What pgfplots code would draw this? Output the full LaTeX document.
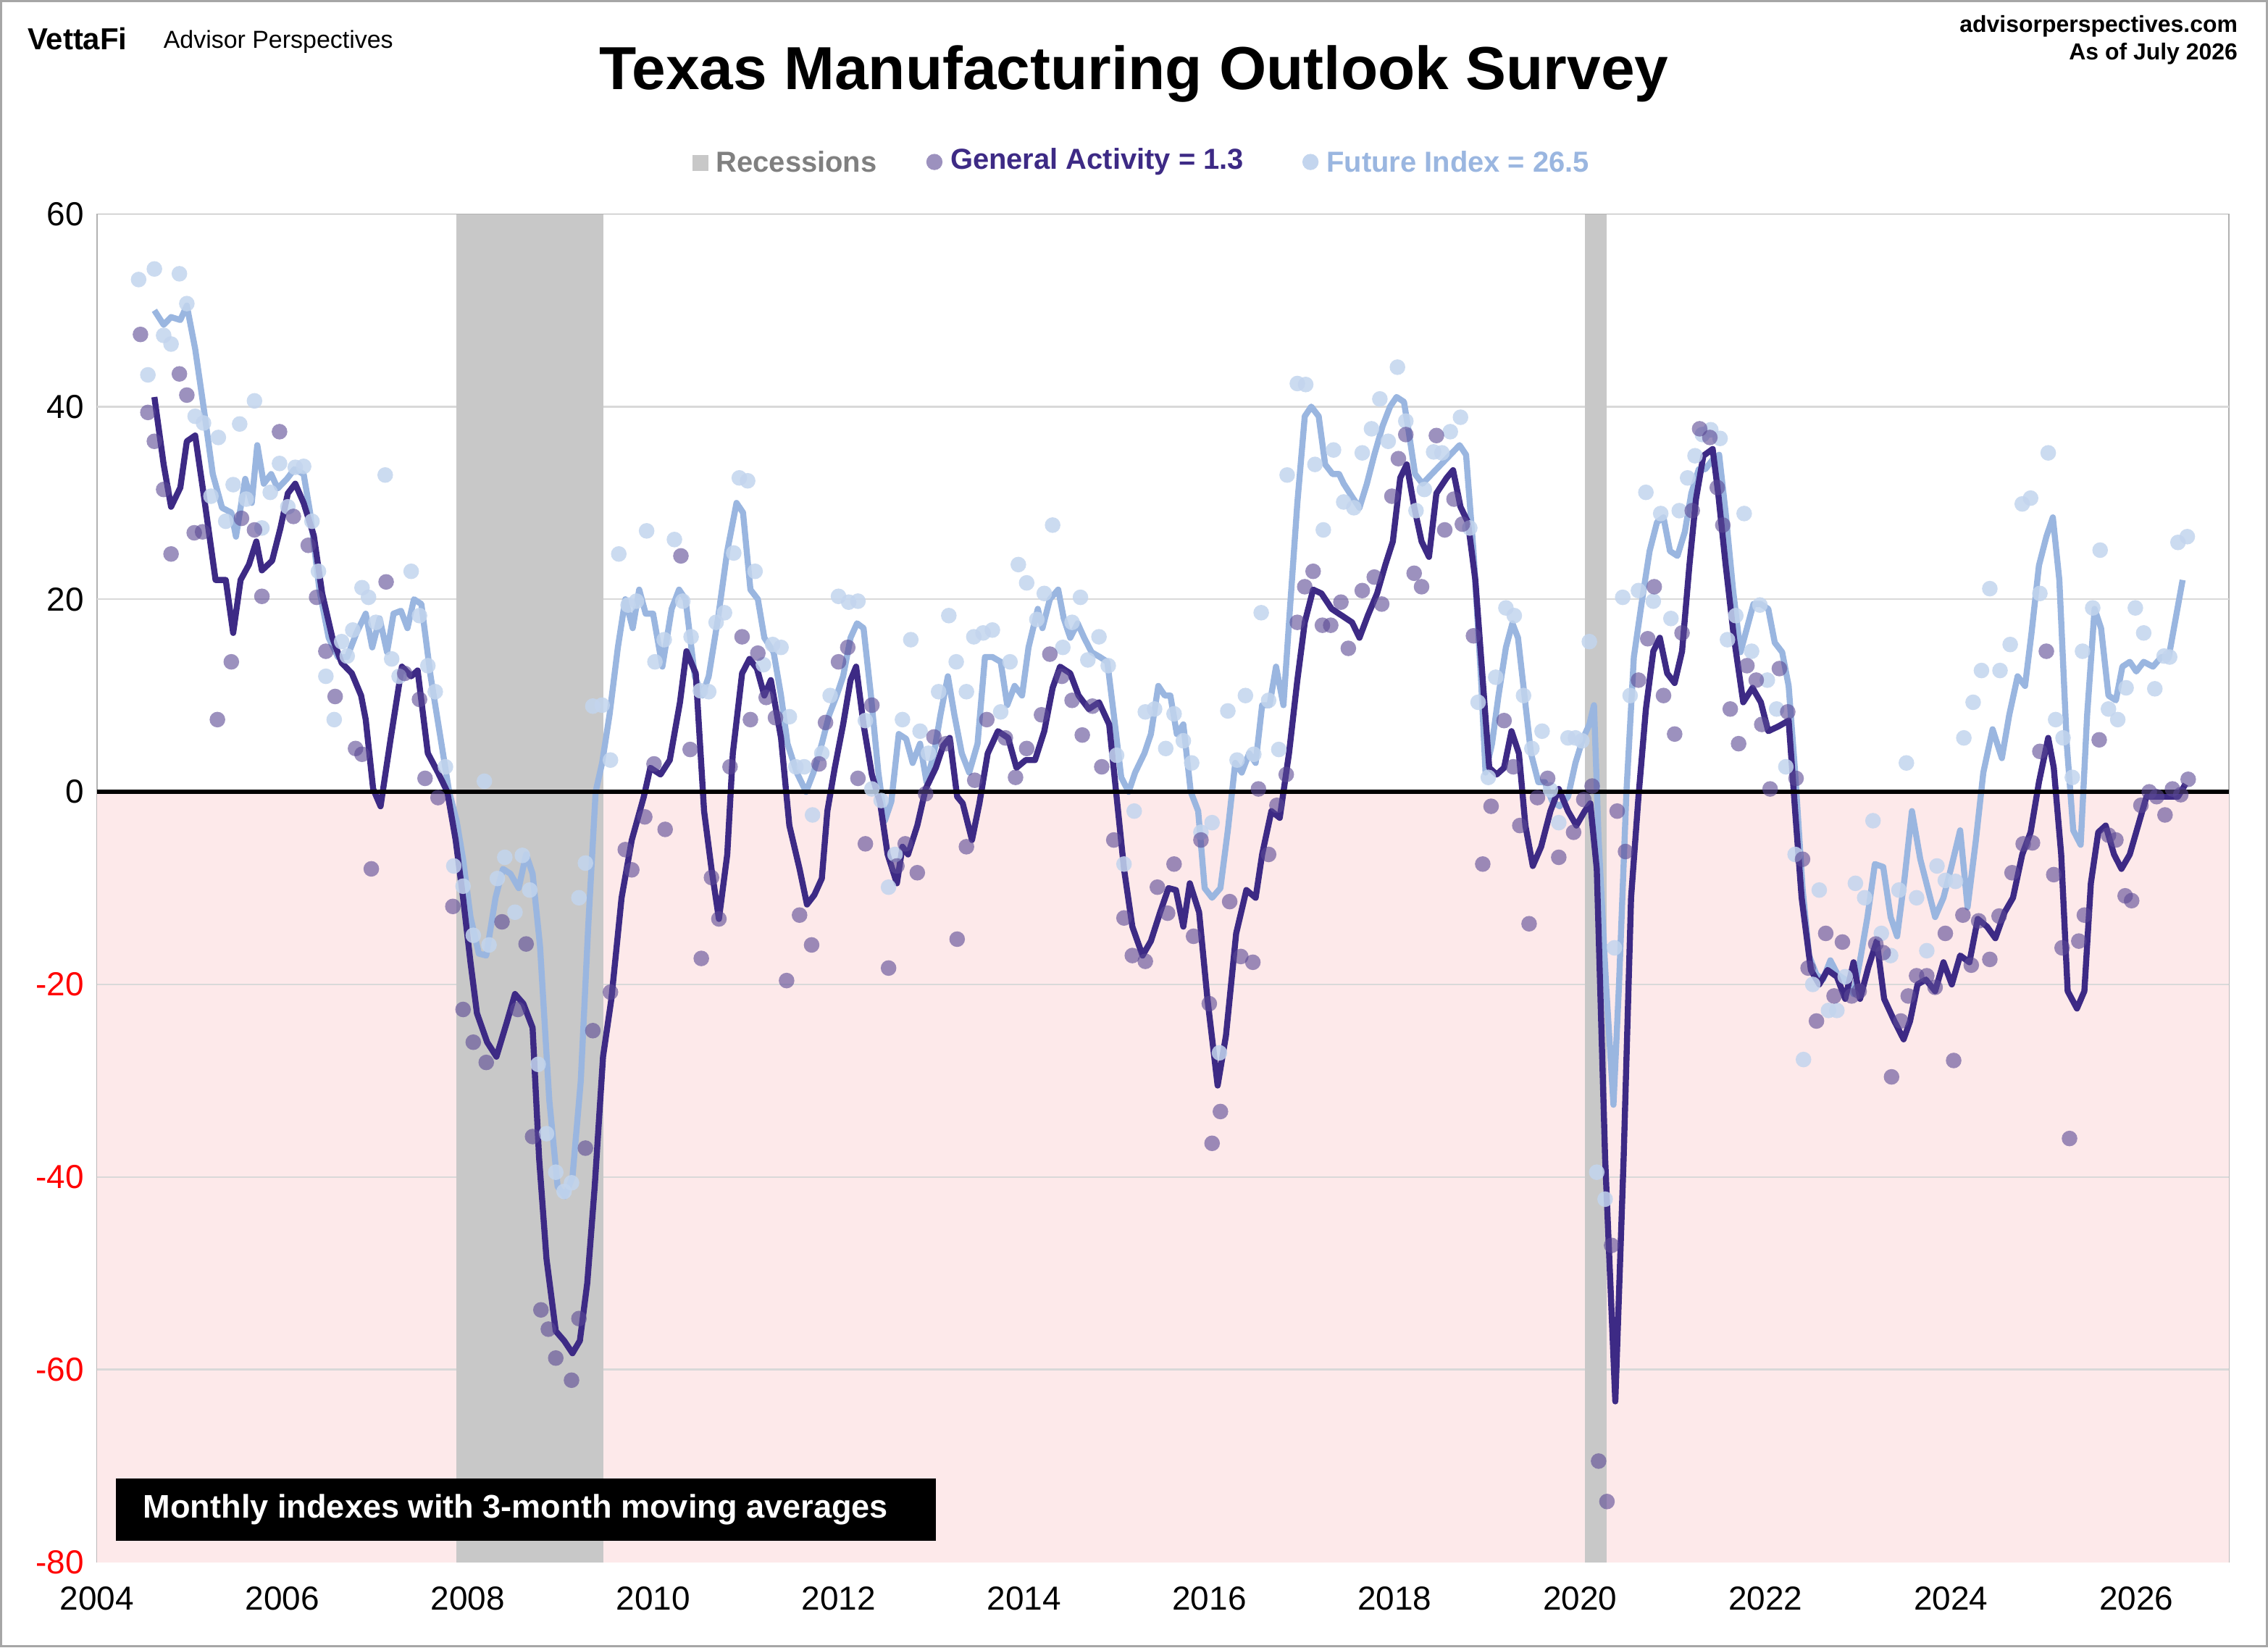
\documentclass[border=0pt]{standalone}
\usepackage{pgfplots}
\pgfplotsset{compat=1.18}
\usepackage{fontspec}
\setmainfont{Liberation Sans}
\definecolor{ga}{HTML}{3D2A85}
\definecolor{gadot}{HTML}{5A4894}
\definecolor{fi}{HTML}{9AB6E0}
\definecolor{fidot}{HTML}{C3D5EE}
\definecolor{pinkbg}{HTML}{FDE9EA}
\definecolor{recg}{HTML}{C8C8C8}
\definecolor{gridg}{HTML}{D9D9D9}
\begin{document}
\begin{tikzpicture}[x=1pt,y=1pt]
\fill[white] (0,0) rectangle (784,569.5);
\draw[gray!70,line width=0.8pt] (0.4,0.4) rectangle (783.6,569.1);
\begin{axis}[at={(33.5pt,29.5pt)},anchor=south west,scale only axis,
 width=737pt,height=466pt,xmin=2004,xmax=2027,ymin=-80,ymax=60,
 axis line style={gray!60},tick style={draw=none},
 xtick={2004,2006,...,2026},
 xticklabels={2004,2006,2008,2010,2012,2014,2016,2018,2020,2022,2024,2026},
 ytick={-80,-60,...,60},
 yticklabels={\textcolor{red}{-80},\textcolor{red}{-60},\textcolor{red}{-40},\textcolor{red}{-20},0,20,40,60},
 ticklabel style={font=\fontsize{11.5}{13}\selectfont},
 xticklabel style={yshift=-5pt},
 yticklabel style={xshift=-1pt},
 clip=true]
\fill[pinkbg] (axis cs:2003,-80) rectangle (axis cs:2028,0);
\draw[gridg,line width=0.6pt] (axis cs:2003,-60) -- (axis cs:2028,-60);
\draw[gridg,line width=0.6pt] (axis cs:2003,-40) -- (axis cs:2028,-40);
\draw[gridg,line width=0.6pt] (axis cs:2003,-20) -- (axis cs:2028,-20);
\draw[gridg,line width=0.6pt] (axis cs:2003,20) -- (axis cs:2028,20);
\draw[gridg,line width=0.6pt] (axis cs:2003,40) -- (axis cs:2028,40);
\fill[recg] (axis cs:2007.88,-80) rectangle (axis cs:2009.46,60);
\fill[recg] (axis cs:2020.05,-80) rectangle (axis cs:2020.29,60);
% Future index dots
\addplot[only marks,mark=*,mark size=2.7pt,color=fidot,draw opacity=0,fill opacity=0.85] coordinates {
(2004.45,53.2)(2004.55,43.3)(2004.62,54.3)(2004.72,47.4)(2004.80,46.5)(2004.89,53.8)(2004.97,50.7)(2005.06,39)(2005.15,38.3)(2005.23,30.7)(2005.31,36.8)(2005.39,28.1)(2005.47,31.9)(2005.54,38.2)(2005.61,30.4)(2005.70,40.6)(2005.78,27.4)(2005.87,31.1)(2005.97,34.1)(2006.06,29.6)(2006.14,33.7)(2006.23,33.8)(2006.32,28.1)(2006.39,22.9)(2006.47,12)(2006.56,7.5)(2006.64,15.6)(2006.70,14.1)(2006.76,16.8)(2006.86,21.2)(2006.93,20.2)(2007.01,17.6)(2007.11,32.9)(2007.18,13.8)(2007.26,12)(2007.39,22.9)(2007.48,18.3)(2007.57,13.1)(2007.65,10.4)(2007.76,2.6)(2007.85,-7.7)(2007.95,-9.8)(2008.06,-14.9)(2008.18,1.1)(2008.23,-15.9)(2008.32,-9)(2008.40,-6.8)(2008.51,-12.5)(2008.59,-6.6)(2008.67,-10.2)(2008.76,-28.3)(2008.85,-35.5)(2008.95,-39.5)(2009.04,-41.5)(2009.12,-40.6)(2009.20,-11)(2009.27,-7.4)(2009.35,8.9)(2009.45,9)(2009.54,3.3)(2009.63,24.7)(2009.73,19.4)(2009.82,19.8)(2009.93,27.1)(2010.02,13.5)(2010.12,15.8)(2010.23,26.2)(2010.32,19.8)(2010.41,16.1)(2010.51,10.5)(2010.60,10.4)(2010.68,17.6)(2010.77,18.6)(2010.87,24.8)(2010.93,32.6)(2011.02,32.3)(2011.10,22.9)(2011.19,13.2)(2011.29,15.3)(2011.38,15)(2011.47,7.8)(2011.54,2.6)(2011.63,2.6)(2011.72,-2.4)(2011.82,4)(2011.91,10)(2012.00,20.3)(2012.11,19.7)(2012.21,19.8)(2012.29,7.4)(2012.36,0.3)(2012.46,-0.9)(2012.54,-9.9)(2012.61,-6.5)(2012.69,7.5)(2012.78,15.8)(2012.88,6.3)(2012.97,4)(2013.08,10.4)(2013.19,18.3)(2013.27,13.5)(2013.38,10.4)(2013.46,16.1)(2013.56,16.5)(2013.66,16.8)(2013.75,8.3)(2013.85,13.5)(2013.94,23.6)(2014.03,21.7)(2014.14,17.9)(2014.22,20.6)(2014.31,27.7)(2014.42,15)(2014.52,17.6)(2014.61,20.2)(2014.69,13.7)(2014.81,16.1)(2014.91,13.1)(2015.00,3.8)(2015.08,-7.5)(2015.19,-2)(2015.31,8.3)(2015.41,8.6)(2015.53,4.5)(2015.62,8.1)(2015.72,5.3)(2015.81,3)(2015.91,-4.2)(2016.03,-3.2)(2016.11,-27.1)(2016.20,8.4)(2016.30,3.3)(2016.39,10)(2016.48,3.9)(2016.56,18.6)(2016.64,9.5)(2016.75,4.4)(2016.84,32.9)(2016.95,42.4)(2017.04,42.3)(2017.14,34)(2017.23,27.2)(2017.34,35.5)(2017.45,30.1)(2017.56,29.5)(2017.65,35.2)(2017.75,37.7)(2017.84,40.8)(2017.93,36.4)(2018.03,44.1)(2018.12,38.5)(2018.23,29.2)(2018.32,31.4)(2018.42,35.3)(2018.51,35.2)(2018.60,37.4)(2018.71,38.9)(2018.81,27.4)(2018.90,9.3)(2019.01,1.5)(2019.09,11.9)(2019.20,19.1)(2019.29,18.3)(2019.39,10)(2019.48,4.5)(2019.59,6.3)(2019.68,0.2)(2019.77,-3.2)(2019.87,5.6)(2019.95,5.6)(2020.02,5.3)(2020.10,15.6)(2020.18,-39.5)(2020.27,-42.3)(2020.37,-16.2)(2020.46,20.2)(2020.54,10)(2020.63,20.9)(2020.71,31.1)(2020.79,19.8)(2020.87,28.9)(2020.98,18)(2021.07,29.2)(2021.16,32.6)(2021.24,34.9)(2021.32,37.1)(2021.41,37.6)(2021.51,36.7)(2021.59,15.8)(2021.68,18.3)(2021.77,28.9)(2021.85,14.6)(2021.94,19.4)(2022.02,11.6)(2022.12,8.6)(2022.22,2.6)(2022.32,-6.5)(2022.41,-27.8)(2022.51,-20)(2022.58,-10.2)(2022.68,-22.7)(2022.77,-22.7)(2022.86,-19.2)(2022.97,-9.5)(2023.07,-11)(2023.16,-3)(2023.25,-14.7)(2023.35,-17)(2023.44,-10.2)(2023.52,3)(2023.63,-11)(2023.74,-16.5)(2023.85,-7.7)(2023.94,-9.2)(2024.05,-9.3)(2024.14,5.6)(2024.24,9.3)(2024.33,12.6)(2024.42,21.1)(2024.53,12.6)(2024.64,15.3)(2024.77,29.9)(2024.86,30.5)(2024.96,20.6)(2025.05,35.2)(2025.13,7.5)(2025.21,5.6)(2025.31,1.5)(2025.42,14.6)(2025.53,19.1)(2025.61,25.1)(2025.70,8.6)(2025.80,7.5)(2025.89,10.8)(2025.99,19.1)(2026.08,16.5)(2026.20,10.7)(2026.30,14.1)(2026.36,14)(2026.45,25.9)(2026.55,26.5)};
% General activity dots
\addplot[only marks,mark=*,mark size=2.7pt,color=gadot,draw opacity=0,fill opacity=0.6] coordinates {
(2004.47,47.5)(2004.55,39.4)(2004.62,36.4)(2004.72,31.4)(2004.80,24.7)(2004.89,43.4)(2004.97,41.2)(2005.05,26.9)(2005.14,27)(2005.30,7.5)(2005.45,13.5)(2005.56,28.4)(2005.70,27.2)(2005.78,20.3)(2005.97,37.4)(2006.12,28.6)(2006.28,25.6)(2006.37,20.2)(2006.47,14.6)(2006.57,9.9)(2006.79,4.5)(2006.86,3.9)(2006.96,-8)(2007.12,21.8)(2007.32,12.3)(2007.48,9.6)(2007.54,1.4)(2007.68,-0.6)(2007.84,-11.9)(2007.95,-22.6)(2008.06,-26)(2008.20,-28.1)(2008.37,-13.5)(2008.54,-22.6)(2008.63,-15.8)(2008.70,-35.8)(2008.79,-53.8)(2008.87,-55.8)(2008.95,-58.8)(2009.12,-61.1)(2009.20,-54.7)(2009.27,-37)(2009.35,-24.8)(2009.54,-20.8)(2009.70,-6)(2009.77,-8.1)(2009.91,-2.6)(2010.01,2.9)(2010.13,-3.9)(2010.30,24.5)(2010.40,4.4)(2010.52,-17.3)(2010.63,-8.9)(2010.71,-13.2)(2010.83,2.6)(2010.96,16.1)(2011.05,7.5)(2011.13,14.4)(2011.22,9.8)(2011.32,7.7)(2011.44,-19.6)(2011.58,-12.8)(2011.71,-15.9)(2011.79,2.9)(2011.86,7.2)(2012.00,13.5)(2012.10,15)(2012.21,1.4)(2012.29,-5.4)(2012.36,9)(2012.54,-18.3)(2012.63,-7.7)(2012.72,-5.4)(2012.85,-8.4)(2012.94,-0.2)(2013.03,5.7)(2013.16,5)(2013.28,-15.3)(2013.38,-5.7)(2013.47,1.2)(2013.60,7.5)(2013.80,5.6)(2013.91,1.5)(2014.03,4.5)(2014.19,8)(2014.28,14.3)(2014.41,12)(2014.52,9.5)(2014.63,5.9)(2014.74,8.9)(2014.84,2.6)(2014.97,-5)(2015.08,-13.1)(2015.17,-17)(2015.31,-17.6)(2015.44,-9.9)(2015.55,-12.6)(2015.62,-7.5)(2015.83,-15)(2015.91,-5)(2016.00,-22)(2016.03,-36.5)(2016.12,-33.2)(2016.22,-11.4)(2016.34,-17.1)(2016.47,-17.7)(2016.53,0.3)(2016.64,-6.5)(2016.73,-1.4)(2016.83,1.8)(2016.95,17.6)(2017.03,21.3)(2017.12,22.9)(2017.22,17.3)(2017.31,17.3)(2017.42,19.7)(2017.50,14.9)(2017.65,20.9)(2017.78,22.3)(2017.86,19.5)(2017.97,30.7)(2018.04,34.6)(2018.12,37.1)(2018.21,22.7)(2018.29,21.3)(2018.45,37)(2018.54,27.2)(2018.64,30.4)(2018.73,27.8)(2018.85,16.2)(2018.95,-7.5)(2019.04,-1.5)(2019.18,7.4)(2019.28,2.6)(2019.35,-3.5)(2019.45,-13.7)(2019.54,-0.6)(2019.65,1.4)(2019.77,-6.8)(2019.93,-4.2)(2020.04,-0.8)(2020.13,0.6)(2020.20,-69.5)(2020.29,-73.7)(2020.34,-47.1)(2020.40,-2)(2020.49,-6.2)(2020.63,11.6)(2020.73,15.9)(2020.80,21.3)(2020.90,10)(2021.02,6)(2021.10,16.5)(2021.21,29.2)(2021.29,37.7)(2021.40,36.8)(2021.48,31.6)(2021.54,27.7)(2021.62,8.6)(2021.71,5)(2021.80,13.1)(2021.90,11.6)(2021.96,7)(2022.05,0.3)(2022.15,12.8)(2022.24,8.3)(2022.33,1.4)(2022.40,-7)(2022.46,-18.3)(2022.55,-23.8)(2022.65,-14.7)(2022.74,-21.2)(2022.83,-15.6)(2022.93,-21.2)(2023.01,-20.7)(2023.19,-15.8)(2023.27,-16.7)(2023.36,-29.6)(2023.46,-23.8)(2023.54,-21.2)(2023.63,-19.1)(2023.74,-19.1)(2023.83,-20.3)(2023.94,-14.7)(2024.03,-27.9)(2024.13,-12.8)(2024.22,-18)(2024.30,-13.4)(2024.42,-17.4)(2024.52,-12.9)(2024.66,-8.4)(2024.78,-5.4)(2024.88,-5.3)(2024.96,4.2)(2025.03,14.6)(2025.11,-8.6)(2025.20,-16.2)(2025.28,-36)(2025.38,-15.5)(2025.44,-12.8)(2025.60,5.4)(2025.70,-4.5)(2025.78,-5)(2025.88,-10.8)(2025.95,-11.3)(2026.05,-1.4)(2026.14,0)(2026.22,-0.5)(2026.31,-2.4)(2026.39,0.3)(2026.48,-0.3)(2026.56,1.3)};
% Future index MA
\addplot[fi,line width=2.1pt,line join=round] coordinates {
(2004.62,50)(2004.72,48.5)(2004.8,49.3)(2004.9,49)(2004.97,50.5)(2005.06,46)(2005.15,40)(2005.25,33)(2005.35,29.5)(2005.45,29)(2005.5,26.5)(2005.6,32.5)(2005.67,30)(2005.73,36)(2005.8,32)(2005.88,33)(2005.95,31.5)(2006.05,32.5)(2006.13,33.5)(2006.23,33)(2006.3,29)(2006.4,21)(2006.5,16)(2006.6,14)(2006.7,14)(2006.8,16.5)(2006.9,18.5)(2006.97,15)(2007.05,18)(2007.13,14.5)(2007.2,18.5)(2007.28,18.8)(2007.35,17)(2007.42,20)(2007.5,19.5)(2007.6,12)(2007.7,6)(2007.8,0)(2007.88,-3)(2007.95,-7)(2008.03,-13)(2008.12,-16.8)(2008.2,-17)(2008.3,-11)(2008.38,-8)(2008.46,-8.5)(2008.55,-10)(2008.63,-6.5)(2008.7,-8.5)(2008.78,-16)(2008.88,-32)(2008.97,-41)(2009.05,-42)(2009.13,-40)(2009.22,-30)(2009.3,-14)(2009.38,0)(2009.45,3)(2009.53,8)(2009.62,15)(2009.7,20)(2009.78,17)(2009.85,21)(2009.92,18.5)(2010.0,18.5)(2010.1,13)(2010.2,19)(2010.28,21)(2010.35,20)(2010.45,12)(2010.53,10)(2010.6,12)(2010.7,18)(2010.8,25)(2010.9,30)(2010.97,29)(2011.05,21)(2011.13,20)(2011.2,16)(2011.3,14.5)(2011.38,10)(2011.45,5)(2011.55,2)(2011.65,0)(2011.73,2)(2011.82,5)(2011.9,8)(2011.98,10)(2012.05,12)(2012.13,16)(2012.2,17.5)(2012.27,17)(2012.35,10)(2012.43,2)(2012.5,-3)(2012.57,-1)(2012.65,6)(2012.73,5.5)(2012.8,3)(2012.88,5)(2012.95,1)(2013.03,4)(2013.1,8)(2013.18,12)(2013.25,8)(2013.33,4)(2013.41,2)(2013.5,5)(2013.58,14)(2013.66,14)(2013.75,13.5)(2013.82,9)(2013.9,11)(2013.98,10)(2014.05,15)(2014.15,19)(2014.2,17)(2014.28,20)(2014.37,21)(2014.43,18)(2014.5,16)(2014.58,17.5)(2014.65,16)(2014.73,14.5)(2014.82,14)(2014.9,13.5)(2014.97,8)(2015.05,1.5)(2015.13,0)(2015.2,2)(2015.3,4)(2015.37,6)(2015.45,11)(2015.52,10)(2015.58,10)(2015.65,6)(2015.72,7)(2015.8,0)(2015.88,-2)(2015.95,-10)(2016.03,-11)(2016.12,-10)(2016.2,-4)(2016.28,3)(2016.35,2)(2016.43,4)(2016.5,3)(2016.57,9)(2016.65,9)(2016.72,13)(2016.8,9)(2016.87,19)(2016.95,30)(2017.03,39)(2017.1,40)(2017.18,39)(2017.25,34)(2017.33,33)(2017.4,33)(2017.45,32)(2017.55,30.5)(2017.62,29.5)(2017.7,32)(2017.78,35)(2017.87,38)(2017.95,40)(2018.02,41)(2018.1,40.5)(2018.15,37.5)(2018.22,33)(2018.3,32)(2018.4,33)(2018.5,34)(2018.6,35)(2018.7,36)(2018.77,35)(2018.85,25)(2018.93,12)(2018.98,2)(2019.05,5)(2019.12,10)(2019.2,15)(2019.27,17.5)(2019.33,16)(2019.4,10)(2019.47,4)(2019.55,1)(2019.62,1)(2019.7,-1)(2019.78,-1.5)(2019.87,-0.5)(2019.95,3)(2020.03,5.5)(2020.1,7)(2020.15,9)(2020.2,-5)(2020.28,-20)(2020.36,-32.5)(2020.42,-20)(2020.5,0)(2020.58,14)(2020.67,20)(2020.75,25)(2020.83,28)(2020.9,28.5)(2020.97,25)(2021.05,24.5)(2021.13,27)(2021.2,31)(2021.28,33.5)(2021.35,33.5)(2021.43,34.5)(2021.5,35)(2021.57,29)(2021.65,21)(2021.73,14.5)(2021.8,17)(2021.87,19.5)(2021.95,19.5)(2022.03,19)(2022.1,15.5)(2022.18,14.5)(2022.25,11)(2022.32,2)(2022.4,-10)(2022.47,-17)(2022.55,-19)(2022.62,-19.5)(2022.7,-17.5)(2022.78,-19)(2022.86,-19.5)(2022.95,-21)(2023.02,-17.5)(2023.1,-13)(2023.18,-7.5)(2023.27,-7.8)(2023.35,-13)(2023.42,-15)(2023.5,-9)(2023.58,-2)(2023.67,-7)(2023.75,-10)(2023.83,-13)(2023.92,-11)(2024.0,-8)(2024.1,-4)(2024.18,-12)(2024.27,-5)(2024.35,2)(2024.45,6.5)(2024.55,3.5)(2024.63,8)(2024.72,12)(2024.8,11)(2024.87,16.5)(2024.95,23.5)(2025.03,26.5)(2025.1,28.5)(2025.17,22)(2025.25,5)(2025.32,-4)(2025.4,-5.5)(2025.47,8)(2025.55,19)(2025.62,17)(2025.7,10)(2025.78,9.5)(2025.85,13)(2025.93,13.5)(2026.0,12.5)(2026.08,13.5)(2026.18,13)(2026.27,14)(2026.35,14)(2026.5,22)};
% General activity MA
\addplot[ga,line width=2.1pt,line join=round] coordinates {
(2004.62,41)(2004.72,34)(2004.8,29.6)(2004.9,31.6)(2004.97,36.4)(2005.06,37)(2005.15,31)(2005.28,22)(2005.39,22)(2005.47,16.5)(2005.55,22)(2005.64,23.6)(2005.72,26)(2005.78,23)(2005.89,24)(2005.98,27.4)(2006.06,31)(2006.14,32)(2006.23,30)(2006.34,26.6)(2006.43,20.6)(2006.54,16)(2006.64,13.4)(2006.75,12.3)(2006.85,10)(2006.9,7.5)(2006.98,0.3)(2007.06,-1.5)(2007.17,5.6)(2007.29,13)(2007.39,12)(2007.46,12.6)(2007.57,4)(2007.68,2)(2007.78,0)(2007.87,-5)(2007.95,-11)(2008.03,-17.7)(2008.1,-23)(2008.21,-26)(2008.31,-27.5)(2008.42,-24)(2008.51,-21)(2008.6,-22)(2008.7,-24.5)(2008.77,-38)(2008.85,-48.5)(2008.95,-56)(2009.04,-57)(2009.13,-58.3)(2009.21,-57)(2009.29,-51)(2009.37,-41)(2009.46,-27.5)(2009.55,-21.5)(2009.66,-11)(2009.77,-5)(2009.9,-0.5)(2009.97,2.5)(2010.08,1.8)(2010.18,3.3)(2010.29,9.3)(2010.36,14.6)(2010.46,12.3)(2010.55,-2)(2010.63,-8)(2010.71,-13.2)(2010.8,-6.5)(2010.86,4)(2010.96,12.3)(2011.04,13.8)(2011.12,12.8)(2011.2,10)(2011.27,11.6)(2011.38,5.6)(2011.47,-3.5)(2011.58,-8)(2011.66,-11.7)(2011.74,-10.7)(2011.82,-9)(2011.88,-2)(2011.96,2.5)(2012.05,7)(2012.13,11.6)(2012.19,13)(2012.27,7)(2012.36,1.8)(2012.45,-1.2)(2012.53,-6.5)(2012.63,-9.5)(2012.69,-5.7)(2012.75,-6.5)(2012.85,-3.5)(2012.94,0.3)(2013.05,2.5)(2013.13,4.8)(2013.2,5.6)(2013.28,-0.5)(2013.34,-1.2)(2013.44,-5)(2013.52,-1.2)(2013.61,4)(2013.72,6.3)(2013.83,5.6)(2013.92,2.5)(2014.02,3.3)(2014.12,3.3)(2014.22,6.3)(2014.31,10.8)(2014.39,13)(2014.5,12.3)(2014.59,10)(2014.7,8.6)(2014.81,9.3)(2014.92,7)(2015.0,-0.5)(2015.08,-8)(2015.17,-14)(2015.28,-17)(2015.37,-15.5)(2015.47,-12.5)(2015.56,-10)(2015.64,-10.2)(2015.72,-14)(2015.79,-9.5)(2015.89,-12.5)(2015.98,-21.5)(2016.09,-30.5)(2016.18,-25.3)(2016.29,-14.7)(2016.4,-10.2)(2016.5,-11)(2016.57,-6.5)(2016.67,-2)(2016.76,-2.7)(2016.86,4)(2016.95,11.6)(2017.03,17.6)(2017.12,21)(2017.21,20.6)(2017.32,19)(2017.43,18.3)(2017.54,17.6)(2017.62,16)(2017.71,18.3)(2017.81,20.6)(2017.9,23.6)(2017.98,26)(2018.06,32.6)(2018.13,34)(2018.21,29.6)(2018.29,26)(2018.37,24.4)(2018.45,31)(2018.56,32.6)(2018.63,33.4)(2018.71,29.6)(2018.79,28)(2018.87,22)(2018.95,11.6)(2019.02,2.5)(2019.1,1.8)(2019.18,2.5)(2019.26,6.3)(2019.34,4)(2019.41,-3.5)(2019.49,-7.7)(2019.58,-5.7)(2019.68,-2)(2019.77,0.3)(2019.87,-2)(2019.96,-3.5)(2020.05,-2)(2020.11,-1.2)(2020.18,-8)(2020.27,-38)(2020.38,-63.3)(2020.47,-38)(2020.55,-11)(2020.63,-0.5)(2020.71,8.6)(2020.79,14.6)(2020.86,16)(2020.94,12.3)(2021.02,11.3)(2021.1,14.6)(2021.18,23.6)(2021.25,30.4)(2021.33,34.9)(2021.43,35.6)(2021.49,31)(2021.57,23.6)(2021.66,16)(2021.76,9.3)(2021.86,10.8)(2021.95,9.3)(2022.03,6.3)(2022.14,6.8)(2022.25,7.4)(2022.32,-2)(2022.39,-11)(2022.49,-18.5)(2022.58,-20)(2022.67,-18.5)(2022.77,-19.2)(2022.86,-21.5)(2022.95,-17.7)(2023.02,-21.5)(2023.11,-18.2)(2023.2,-15.5)(2023.28,-21.5)(2023.39,-23.8)(2023.49,-25.7)(2023.56,-23.8)(2023.64,-20)(2023.73,-19.5)(2023.83,-20.7)(2023.92,-17.7)(2024.01,-20)(2024.1,-17)(2024.2,-17.7)(2024.29,-13.2)(2024.39,-14)(2024.48,-15.2)(2024.58,-12.5)(2024.67,-11)(2024.77,-6.5)(2024.86,-4.2)(2024.95,1)(2025.05,5.6)(2025.11,2.5)(2025.19,-6.5)(2025.26,-20.7)(2025.36,-22.5)(2025.44,-20.7)(2025.51,-9.5)(2025.59,-4.2)(2025.67,-3.5)(2025.76,-6.5)(2025.84,-8)(2025.93,-6.5)(2026.02,-3.5)(2026.11,-0.5)(2026.22,-0.5)(2026.34,-0.5)(2026.45,-0.5)(2026.53,0.8)};
\draw[black,line width=1.6pt] (axis cs:2004,0) -- (axis cs:2027,0);
\end{axis}
% titles
\node[font=\bfseries\fontsize{21}{24}\selectfont] at (392,544) {Texas Manufacturing Outlook Survey};
\node[anchor=west,font=\bfseries\fontsize{10.5}{12}\selectfont] at (6,556) {VettaFi};
\node[anchor=west,font=\fontsize{8.5}{10}\selectfont] at (53,555) {Advisor Perspectives};
\node[anchor=east,font=\bfseries\fontsize{8}{9.5}\selectfont] at (777,560.5) {advisorperspectives.com};
\node[anchor=east,font=\bfseries\fontsize{8}{9.5}\selectfont] at (777,551) {As of July 2026};
% legend
\fill[recg] (239.5,510.5) rectangle (245,516);
\node[anchor=west,font=\bfseries\fontsize{10}{12}\selectfont,text=gray] at (244,513.5) {Recessions};
\fill[gadot,opacity=0.6] (323,513.5) circle (2.8);
\node[anchor=west,font=\bfseries\fontsize{10}{12}\selectfont,text=ga] at (325,513.5) {General Activity = 1.3};
\fill[fidot] (453,513.5) circle (2.8);
\node[anchor=west,font=\bfseries\fontsize{10}{12}\selectfont,text=fi] at (455,513.5) {Future Index = 26.5};
% note box
\fill[black] (40,37) rectangle (323.5,58.5);
\node[anchor=west,font=\bfseries\fontsize{11.3}{13}\selectfont,text=white] at (46,47.7) {Monthly indexes with 3-month moving averages};
\end{tikzpicture}
\end{document}
